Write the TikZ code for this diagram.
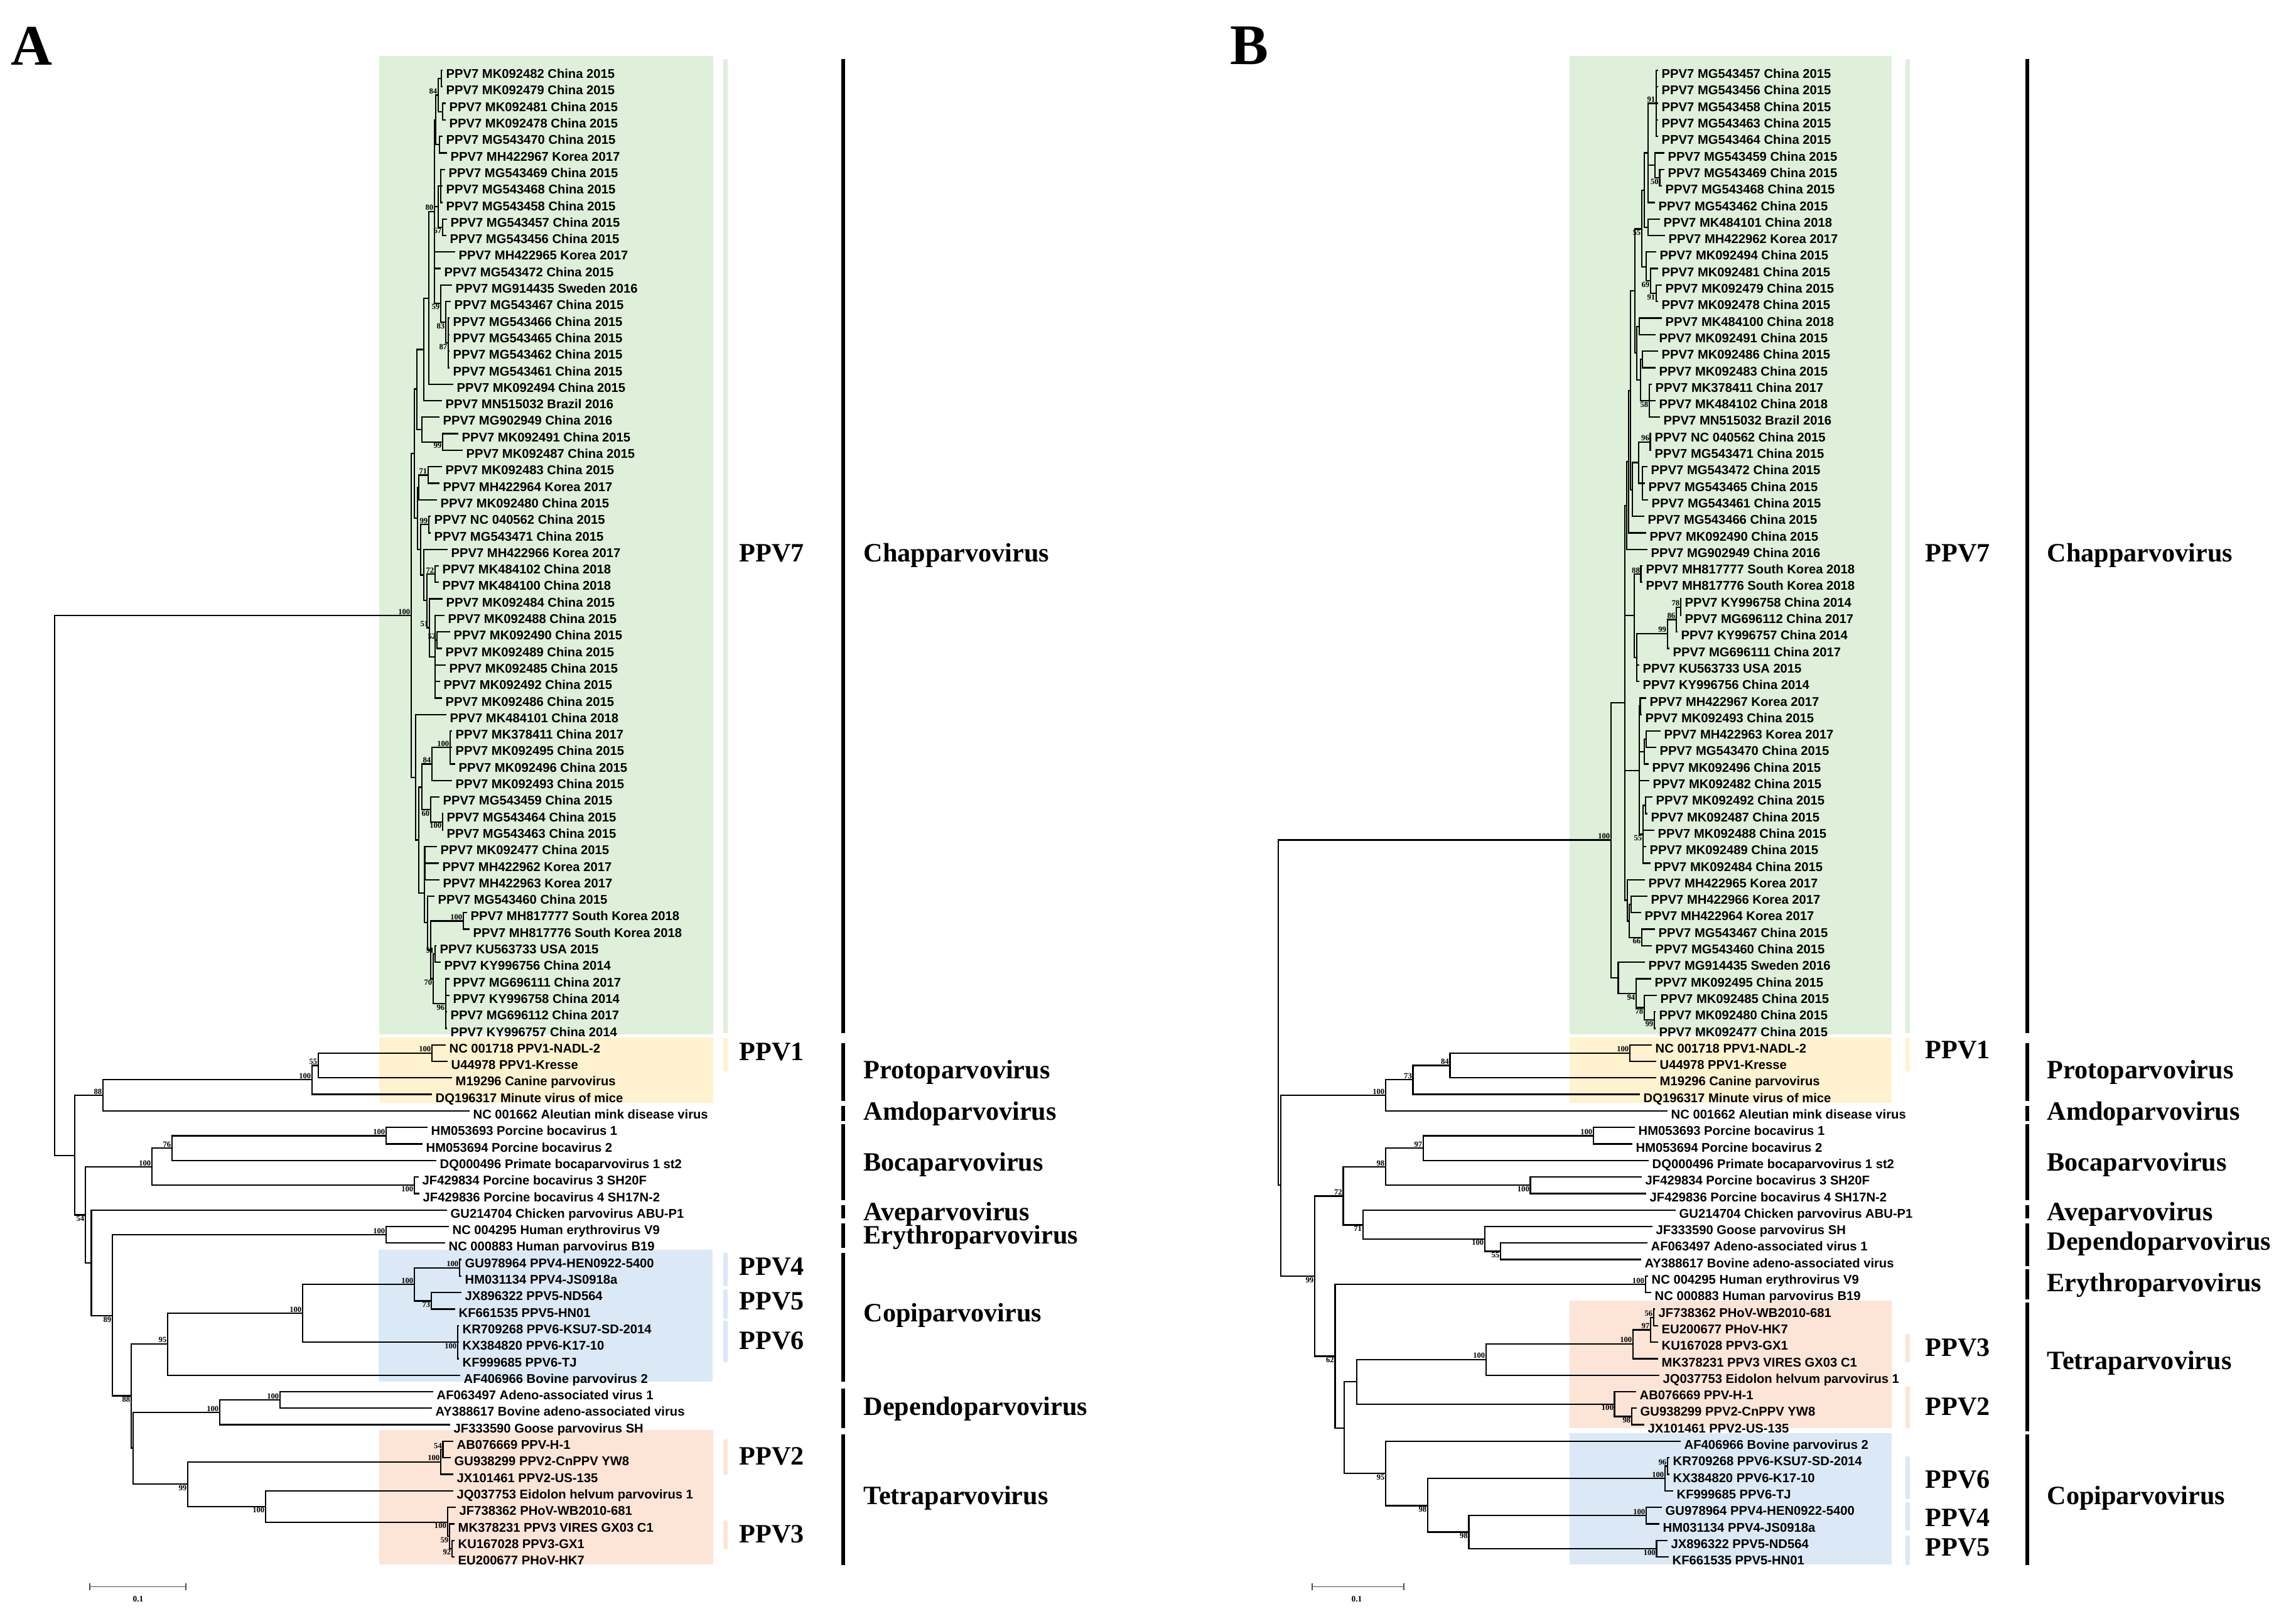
\documentclass[tikz,border=0pt]{standalone}
\usepackage{fontspec}
\setmainfont{Liberation Serif}
\setsansfont{Liberation Sans}
\definecolor{boxgreen}{RGB}{222,240,217}
\definecolor{boxyellow}{RGB}{255,242,206}
\definecolor{boxblue}{RGB}{219,233,246}
\definecolor{boxpeach}{RGB}{252,229,215}
% one parent, its children: elbow branches
\newcommand\twig[2]{\foreach \kid in {#2}{\draw[br] (#1) |- (\kid);}}
\begin{document}
\begin{tikzpicture}[x=0.1mm,y=-2.63mm,
  br/.style={line width=0.65pt},
  leaf/.style={anchor=west,inner xsep=0.5mm,inner ysep=0pt,text height=0.72em,text depth=0pt,font=\fontsize{5.75}{6}\selectfont\sffamily\bfseries},
  bs/.style={inner sep=0.3pt,font=\fontsize{3.6}{4}\selectfont\bfseries},
  bu/.style={label={[bs]above left:#1}},
  bd/.style={label={[bs]below left:#1}},
  clade/.style={anchor=west,inner sep=0pt,text height=0.66em,text depth=0pt,font=\fontsize{12}{14}\selectfont\bfseries},
  cbar/.style={line width=0.7mm},
  gbar/.style={line width=0.55mm},
  sbar/.style={line width=0.45pt,black!70},
  sblab/.style={font=\fontsize{3.8}{4}\selectfont\bfseries,inner sep=0pt}]
\fill[white] (0,-3.2586) rectangle (3657,94.156);
\useasboundingbox (0,-3.2586) rectangle (3657,94.156);

% coloured clade boxes
\fill[boxgreen] (604,0.12) rectangle (1136,59.35);
\fill[boxyellow] (604,59.55) rectangle (1136,63.5);
\fill[boxblue] (603,72.4) rectangle (1135,80.4);
\fill[boxpeach] (604,83.3) rectangle (1136,91.45);
\fill[boxgreen] (2500,0.12) rectangle (3013,59.35);
\fill[boxyellow] (2500,59.55) rectangle (3013,63.5);
\fill[boxpeach] (2500,75.5) rectangle (3013,83.2);
\fill[boxblue] (2500,83.5) rectangle (3013,91.45);

\node[font=\fontsize{26}{30}\selectfont\bfseries] (panelA) at (50,-0.48) {A};
\node[font=\fontsize{26}{30}\selectfont\bfseries] (panelB) at (1990,-0.48) {B};

%%%%%%%%%% tree A
\foreach \row/\xx/\txt in {1/705/PPV7 MK092482 China 2015, 2/705/PPV7 MK092479 China 2015,
  3/710/PPV7 MK092481 China 2015, 4/710/PPV7 MK092478 China 2015, 5/705/PPV7 MG543470 China 2015,
  6/712/PPV7 MH422967 Korea 2017, 7/709/PPV7 MG543469 China 2015, 8/705/PPV7 MG543468 China 2015,
  9/705/PPV7 MG543458 China 2015, 10/712/PPV7 MG543457 China 2015, 11/711/PPV7 MG543456 China 2015,
  12/725/PPV7 MH422965 Korea 2017, 13/702/PPV7 MG543472 China 2015, 14/720/PPV7 MG914435 Sweden 2016,
  15/718/PPV7 MG543467 China 2015, 16/716/PPV7 MG543466 China 2015, 17/716/PPV7 MG543465 China 2015,
  18/716/PPV7 MG543462 China 2015, 19/716/PPV7 MG543461 China 2015, 20/722/PPV7 MK092494 China 2015,
  21/704/PPV7 MN515032 Brazil 2016, 22/700/PPV7 MG902949 China 2016, 23/730/PPV7 MK092491 China 2015,
  24/737/PPV7 MK092487 China 2015, 25/704/PPV7 MK092483 China 2015, 26/700/PPV7 MH422964 Korea 2017,
  27/696/PPV7 MK092480 China 2015, 28/686/PPV7 NC 040562 China 2015, 29/686/PPV7 MG543471 China 2015,
  30/713/PPV7 MH422966 Korea 2017, 31/699/PPV7 MK484102 China 2018, 32/699/PPV7 MK484100 China 2018,
  33/705/PPV7 MK092484 China 2015, 34/708/PPV7 MK092488 China 2015, 35/717/PPV7 MK092490 China 2015,
  36/704/PPV7 MK092489 China 2015, 37/710/PPV7 MK092485 China 2015, 38/701/PPV7 MK092492 China 2015,
  39/704/PPV7 MK092486 China 2015, 40/711/PPV7 MK484101 China 2018, 41/720/PPV7 MK378411 China 2017,
  42/720/PPV7 MK092495 China 2015, 43/725/PPV7 MK092496 China 2015, 44/720/PPV7 MK092493 China 2015,
  45/700/PPV7 MG543459 China 2015, 46/706/PPV7 MG543464 China 2015, 47/706/PPV7 MG543463 China 2015,
  48/696/PPV7 MK092477 China 2015, 49/699/PPV7 MH422962 Korea 2017, 50/700/PPV7 MH422963 Korea 2017,
  51/692/PPV7 MG543460 China 2015, 52/744/PPV7 MH817777 South Korea 2018, 53/748/PPV7 MH817776 South Korea 2018,
  54/695/PPV7 KU563733 USA 2015, 55/702/PPV7 KY996756 China 2014, 56/716/PPV7 MG696111 China 2017,
  57/716/PPV7 KY996758 China 2014, 58/712/PPV7 MG696112 China 2017, 59/712/PPV7 KY996757 China 2014,
  60/710/NC 001718 PPV1-NADL-2, 61/713/U44978 PPV1-Kresse, 62/720/M19296 Canine parvovirus,
  63/688/DQ196317 Minute virus of mice, 64/748/NC 001662 Aleutian mink disease virus,
  65/681/HM053693 Porcine bocavirus 1, 66/673/HM053694 Porcine bocavirus 2,
  67/695/DQ000496 Primate bocaparvovirus 1 st2, 68/667/JF429834 Porcine bocavirus 3 SH20F,
  69/668/JF429836 Porcine bocavirus 4 SH17N-2, 70/712/GU214704 Chicken parvovirus ABU-P1,
  71/715/NC 004295 Human erythrovirus V9, 72/709/NC 000883 Human parvovirus B19,
  73/735/GU978964 PPV4-HEN0922-5400, 74/735/HM031134 PPV4-JS0918a, 75/735/JX896322 PPV5-ND564,
  76/725/KF661535 PPV5-HN01, 77/731/KR709268 PPV6-KSU7-SD-2014, 78/731/KX384820 PPV6-K17-10,
  79/731/KF999685 PPV6-TJ, 80/733/AF406966 Bovine parvovirus 2, 81/690/AF063497 Adeno-associated virus 1,
  82/688/AY388617 Bovine adeno-associated virus, 83/717/JF333590 Goose parvovirus SH,
  84/722/AB076669 PPV-H-1, 85/718/GU938299 PPV2-CnPPV YW8, 86/722/JX101461 PPV2-US-135,
  87/722/JQ037753 Eidolon helvum parvovirus 1, 88/726/JF738362 PHoV-WB2010-681,
  89/724/MK378231 PPV3 VIRES GX03 C1, 90/724/KU167028 PPV3-GX1, 91/724/EU200677 PHoV-HK7}
  \node[leaf] (a\row) at (\xx,\row) {\txt};

\coordinate (n12) at (703,1.5);
\coordinate (n34) at (705,3.5);
\coordinate[bu=84] (n1t4) at (698,2.5);
\coordinate (n56) at (700,5.5);
\coordinate (n1t6) at (694,4);
\coordinate (n7t9) at (702,8);
\coordinate[bd=67] (n1011) at (705,10.5);
\coordinate (n7t11) at (698,9.25);
\coordinate[bd=87] (n16t19) at (714,17.5);
\coordinate[bd=83] (n15t19) at (710,16.25);
\coordinate[bd=59] (n14t19) at (702,15.1);
\coordinate[bu=80] (nP) at (692,9.55);
\coordinate (n80) at (683,14.8);
\coordinate (nQ) at (675,17.9);
\coordinate[bd=99] (n2324) at (705,23.5);
\coordinate (nR) at (672,22.75);
\coordinate (nS) at (664,20.3);
\coordinate[bu=71] (n2526) at (682,25.5);
\coordinate (n25t27) at (667,26.25);
\coordinate[bu=99] (n2829) at (683,28.5);
\coordinate[bu=72] (n3132) at (693,31.5);
\coordinate[bu=52] (n3536) at (696,35.5);
\coordinate (n34t39) at (693,36.5);
\coordinate[bu=51] (n33t39) at (684,34.75);
\coordinate (n31t39) at (680,33.1);
\coordinate (n30t39) at (675,31.55);
\coordinate (n28t39) at (670,30);
\coordinate (nT) at (665,28.1);
\coordinate (nU) at (660,24.2);
\coordinate[bu=100] (n41t43) at (717,42);
\coordinate[bu=84] (n41t44) at (688,43);
\coordinate[bd=100] (n4647) at (705,46.5);
\coordinate[bd=60] (n45t47) at (686,45.75);
\coordinate (n41t47) at (672,44.4);
\coordinate (n48t50) at (676.5,49);
\coordinate[bu=100] (n5253) at (738,52.5);
\coordinate[bu=51] (n5455) at (693,54.5);
\coordinate[bd=96] (n56t59) at (710,57.5);
\coordinate[bd=70] (n54t59) at (690,56);
\coordinate (n52t59) at (686,54.25);
\coordinate (n51t59) at (681,52.6);
\coordinate (n48t59) at (676,50.8);
\coordinate (nL2) at (667,47.6);
\coordinate (nL) at (662,43.8);
\coordinate[bu=100] (nC7) at (655,34);
\coordinate[bu=100] (n6061) at (688,60.5);
\coordinate[bu=55] (n55) at (507,61.25);
\coordinate[bu=100] (n100a) at (497,62.1);
\coordinate[bu=88] (n88) at (164,63.05);
\coordinate[bu=100] (n6566) at (615,65.5);
\coordinate[bu=76] (n76) at (274,66.25);
\coordinate[bd=100] (n6869) at (660,68.5);
\coordinate[bu=100] (nBoc) at (242,67.4);
\coordinate[bu=100] (n7172) at (615,71.5);
\coordinate[bu=100] (n7374) at (732,73.5);
\coordinate[bd=73] (n7576) at (687,75.5);
\coordinate[bu=100] (n100e) at (660,74.5);
\coordinate[bd=100] (n7779) at (729,78);
\coordinate[bu=100] (n100d) at (482,76.25);
\coordinate[bu=95] (n95) at (267,78.1);
\coordinate[bu=100] (n8182) at (446,81.5);
\coordinate[bu=100] (nDep) at (350,82.25);
\coordinate[bu=54] (n8485) at (705.6,84.5);
\coordinate[bu=100] (n84t86) at (702,85.25);
\coordinate[bd=92] (n9091) at (720,90.5);
\coordinate[bd=59] (n89t91) at (716,89.75);
\coordinate[bd=100] (n88t91) at (712.7,88.9);
\coordinate[bd=100] (n100g) at (423,87.95);
\coordinate[bd=99] (n99) at (299,86.6);
\coordinate (nV2) at (212,84.4);
\coordinate[bd=88] (nV) at (209,81.25);
\coordinate[bd=89] (nW) at (179,76.4);
\coordinate (nZ) at (145.5,73.2);
\coordinate[bd=54] (nY) at (136,70.3);
\coordinate (nX) at (119,66.7);
\coordinate (nRoot) at (87,50.35);

\twig{n12}{a1,a2}
\twig{n34}{a3,a4}
\twig{n1t4}{n12,n34}
\twig{n56}{a5,a6}
\twig{n1t6}{n1t4,n56}
\twig{n7t9}{a7,a8,a9}
\twig{n1011}{a10,a11}
\twig{n7t11}{n7t9,n1011}
\twig{n16t19}{a16,a17,a18,a19}
\twig{n15t19}{a15,n16t19}
\twig{n14t19}{a14,n15t19}
\twig{nP}{n1t6,n7t11,a12,a13,n14t19}
\twig{n80}{nP,a20}
\twig{nQ}{n80,a21}
\twig{n2324}{a23,a24}
\twig{nR}{a22,n2324}
\twig{nS}{nQ,nR}
\twig{n2526}{a25,a26}
\twig{n25t27}{n2526,a27}
\twig{n2829}{a28,a29}
\twig{n3132}{a31,a32}
\twig{n3536}{a35,a36}
\twig{n34t39}{a34,n3536,a37,a38,a39}
\twig{n33t39}{a33,n34t39}
\twig{n31t39}{n3132,n33t39}
\twig{n30t39}{a30,n31t39}
\twig{n28t39}{n2829,n30t39}
\twig{nT}{n25t27,n28t39}
\twig{nU}{nS,nT}
\twig{n41t43}{a41,a42,a43}
\twig{n41t44}{n41t43,a44}
\twig{n4647}{a46,a47}
\twig{n45t47}{a45,n4647}
\twig{n41t47}{n41t44,n45t47}
\twig{n48t50}{a48,a49,a50}
\twig{n5253}{a52,a53}
\twig{n5455}{a54,a55}
\twig{n56t59}{a56,a57,a58,a59}
\twig{n54t59}{n5455,n56t59}
\twig{n52t59}{n5253,n54t59}
\twig{n51t59}{a51,n52t59}
\twig{n48t59}{n48t50,n51t59}
\twig{nL2}{n41t47,n48t59}
\twig{nL}{a40,nL2}
\twig{nC7}{nU,nL}
\twig{n6061}{a60,a61}
\twig{n55}{n6061,a62}
\twig{n100a}{n55,a63}
\twig{n88}{n100a,a64}
\twig{n6566}{a65,a66}
\twig{n76}{n6566,a67}
\twig{n6869}{a68,a69}
\twig{nBoc}{n76,n6869}
\twig{n7172}{a71,a72}
\twig{n7374}{a73,a74}
\twig{n7576}{a75,a76}
\twig{n100e}{n7374,n7576}
\twig{n7779}{a77,a78,a79}
\twig{n100d}{n100e,n7779}
\twig{n95}{n100d,a80}
\twig{n8182}{a81,a82}
\twig{nDep}{n8182,a83}
\twig{n8485}{a84,a85}
\twig{n84t86}{n8485,a86}
\twig{n9091}{a90,a91}
\twig{n89t91}{a89,n9091}
\twig{n88t91}{a88,n89t91}
\twig{n100g}{a87,n88t91}
\twig{n99}{n84t86,n100g}
\twig{nV2}{nDep,n99}
\twig{nV}{n95,nV2}
\twig{nW}{n7172,nV}
\twig{nZ}{a70,nW}
\twig{nY}{nBoc,nZ}
\twig{nX}{n88,nY}
\twig{nRoot}{nC7,nX}

%%%%%%%%%% tree B
\foreach \row/\xx/\txt in {1/2641/PPV7 MG543457 China 2015, 2/2641/PPV7 MG543456 China 2015,
  3/2641/PPV7 MG543458 China 2015, 4/2641/PPV7 MG543463 China 2015, 5/2641/PPV7 MG543464 China 2015,
  6/2651/PPV7 MG543459 China 2015, 7/2651/PPV7 MG543469 China 2015, 8/2647/PPV7 MG543468 China 2015,
  9/2636/PPV7 MG543462 China 2015, 10/2644/PPV7 MK484101 China 2018, 11/2652/PPV7 MH422962 Korea 2017,
  12/2638/PPV7 MK092494 China 2015, 13/2641/PPV7 MK092481 China 2015, 14/2647/PPV7 MK092479 China 2015,
  15/2641/PPV7 MK092478 China 2015, 16/2647/PPV7 MK484100 China 2018, 17/2637/PPV7 MK092491 China 2015,
  18/2641/PPV7 MK092486 China 2015, 19/2637/PPV7 MK092483 China 2015, 20/2631/PPV7 MK378411 China 2017,
  21/2637/PPV7 MK484102 China 2018, 22/2644/PPV7 MN515032 Brazil 2016, 23/2630/PPV7 NC 040562 China 2015,
  24/2630/PPV7 MG543471 China 2015, 25/2624/PPV7 MG543472 China 2015, 26/2620/PPV7 MG543465 China 2015,
  27/2625/PPV7 MG543461 China 2015, 28/2619/PPV7 MG543466 China 2015, 29/2622/PPV7 MK092490 China 2015,
  30/2624/PPV7 MG902949 China 2016, 31/2616/PPV7 MH817777 South Korea 2018, 32/2616/PPV7 MH817776 South Korea 2018,
  33/2678/PPV7 KY996758 China 2014, 34/2678/PPV7 MG696112 China 2017, 35/2672/PPV7 KY996757 China 2014,
  36/2659/PPV7 MG696111 China 2017, 37/2611/PPV7 KU563733 USA 2015, 38/2611/PPV7 KY996756 China 2014,
  39/2622/PPV7 MH422967 Korea 2017, 40/2615/PPV7 MK092493 China 2015, 41/2645/PPV7 MH422963 Korea 2017,
  42/2638/PPV7 MG543470 China 2015, 43/2626/PPV7 MK092496 China 2015, 44/2627/PPV7 MK092482 China 2015,
  45/2632/PPV7 MK092492 China 2015, 46/2624/PPV7 MK092487 China 2015, 47/2635/PPV7 MK092488 China 2015,
  48/2622/PPV7 MK092489 China 2015, 49/2629/PPV7 MK092484 China 2015, 50/2620/PPV7 MH422965 Korea 2017,
  51/2624/PPV7 MH422966 Korea 2017, 52/2614/PPV7 MH422964 Korea 2017, 53/2636/PPV7 MG543467 China 2015,
  54/2631/PPV7 MG543460 China 2015, 55/2620/PPV7 MG914435 Sweden 2016, 56/2630/PPV7 MK092495 China 2015,
  57/2639/PPV7 MK092485 China 2015, 58/2637/PPV7 MK092480 China 2015, 59/2637/PPV7 MK092477 China 2015,
  60/2631/NC 001718 PPV1-NADL-2, 61/2638/U44978 PPV1-Kresse, 62/2638/M19296 Canine parvovirus,
  63/2612/DQ196317 Minute virus of mice, 64/2656/NC 001662 Aleutian mink disease virus,
  65/2604/HM053693 Porcine bocavirus 1, 66/2600/HM053694 Porcine bocavirus 2,
  67/2626/DQ000496 Primate bocaparvovirus 1 st2, 68/2615/JF429834 Porcine bocavirus 3 SH20F,
  69/2622/JF429836 Porcine bocavirus 4 SH17N-2, 70/2669/GU214704 Chicken parvovirus ABU-P1,
  71/2632/JF333590 Goose parvovirus SH, 72/2624/AF063497 Adeno-associated virus 1,
  73/2614/AY388617 Bovine adeno-associated virus, 74/2625/NC 004295 Human erythrovirus V9,
  75/2630/NC 000883 Human parvovirus B19, 76/2636/JF738362 PHoV-WB2010-681, 77/2641/EU200677 PHoV-HK7,
  78/2641/KU167028 PPV3-GX1, 79/2641/MK378231 PPV3 VIRES GX03 C1, 80/2643/JQ037753 Eidolon helvum parvovirus 1,
  81/2606/AB076669 PPV-H-1, 82/2607/GU938299 PPV2-CnPPV YW8, 83/2619/JX101461 PPV2-US-135,
  84/2677/AF406966 Bovine parvovirus 2, 85/2659/KR709268 PPV6-KSU7-SD-2014, 86/2659/KX384820 PPV6-K17-10,
  87/2665/KF999685 PPV6-TJ, 88/2647/GU978964 PPV4-HEN0922-5400, 89/2643/HM031134 PPV4-JS0918a,
  90/2656/JX896322 PPV5-ND564, 91/2658/KF661535 PPV5-HN01}
  \node[leaf] (b\row) at (\xx,\row) {\txt};

\coordinate[bu=91] (q15) at (2638,3);
\coordinate[bd=50] (q78) at (2643.5,7.5);
\coordinate (q68) at (2636,6.75);
\coordinate (q19) at (2625,6);
\coordinate (q1011) at (2625,10.5);
\coordinate (q111) at (2619,8.25);
\coordinate[bd=91] (q1415) at (2638,14.5);
\coordinate[bd=69] (q1315) at (2629,13.75);
\coordinate (q1215) at (2622,12.9);
\coordinate[bd=55] (q115) at (2615,10.6);
\coordinate (q1617) at (2611,16.5);
\coordinate (q1819) at (2616,18.5);
\coordinate[bd=58] (q2022) at (2627,21);
\coordinate (q1822) at (2613,19.75);
\coordinate (q1622) at (2607,18.1);
\coordinate (q122) at (2604,14.35);
\coordinate[bu=96] (q2324) at (2628.6,23.5);
\coordinate (q2527) at (2616,26);
\coordinate (q2327) at (2610,24.75);
\coordinate (q2328) at (2600,26.4);
\coordinate (qP1) at (2597,20.4);
\coordinate (qP2) at (2594,24.7);
\coordinate (qP3) at (2591,27.35);
\coordinate[bu=88] (q3132) at (2613.6,31.5);
\coordinate[bu=78] (q3334) at (2677,33.5);
\coordinate[bu=86] (q3335) at (2670,34.25);
\coordinate[bu=99] (q3336) at (2655.7,35.1);
\coordinate (qM1) at (2607,36.55);
\coordinate (qG) at (2603,34);
\coordinate (q3940) at (2612.6,39.5);
\coordinate (q4142) at (2622,41.5);
\coordinate (q4143) at (2619,42.25);
\coordinate (q4546) at (2621,45.5);
\coordinate[bd=55] (q4549) at (2617,47.25);
\coordinate (q3949) at (2611,43.4);
\coordinate (q5152) at (2598,51.5);
\coordinate[bd=66] (q5354) at (2615,53.5);
\coordinate (q5154) at (2595,52.5);
\coordinate (q5054) at (2592,51.25);
\coordinate (qUB) at (2588,39.3);
\coordinate[bd=99] (q5859) at (2635,58.5);
\coordinate[bd=78] (q5759) at (2619,57.75);
\coordinate[bd=94] (q5659) at (2606,56.9);
\coordinate (q5559) at (2577.5,55.95);
\coordinate[bu=100] (qC7) at (2566,47.6);
\coordinate[bu=100] (q6061) at (2596,60.5);
\coordinate[bu=84] (q84) at (2309.5,61.25);
\coordinate[bu=73] (q73) at (2250.6,62.1);
\coordinate[bu=100] (q100B) at (2207,63.05);
\coordinate[bu=100] (q6566) at (2538,65.5);
\coordinate[bu=97] (q97) at (2267,66.25);
\coordinate[bd=100] (q6869) at (2437.6,68.5);
\coordinate[bu=98] (q98) at (2207,67.4);
\coordinate[bd=55] (q7273) at (2390,72.5);
\coordinate[bd=100] (q100h) at (2365,71.75);
\coordinate[bd=71] (q71) at (2170.7,70.9);
\coordinate[bu=72] (q72) at (2139.5,69.15);
\coordinate[bu=100] (q7475) at (2620.7,74.5);
\coordinate[bu=56] (q7677) at (2634,76.5);
\coordinate[bu=97] (q7678) at (2629,77.25);
\coordinate[bu=100] (q7679) at (2601,78.1);
\coordinate[bu=100] (q100i) at (2367,79.05);
\coordinate[bd=98] (q8283) at (2599,82.5);
\coordinate[bd=100] (q100j) at (2571.6,81.75);
\coordinate (qK) at (2161,80.4);
\coordinate[bu=96] (q8586) at (2656,85.5);
\coordinate[bu=100] (q8587) at (2652,86.25);
\coordinate[bu=100] (q8889) at (2622,88.5);
\coordinate[bd=100] (q9091) at (2638.5,90.5);
\coordinate[bd=98] (q98d) at (2339.4,89.5);
\coordinate[bd=98] (q98c) at (2274,87.9);
\coordinate[bd=95] (q95) at (2207,85.95);
\coordinate (qM) at (2140.8,83.2);
\coordinate[bd=62] (q62) at (2126.5,78.85);
\coordinate[bd=99] (q99) at (2094,74);
\coordinate (qX) at (2040,68.5);
\coordinate (qRoot) at (2036,58.05);

\twig{q15}{b1,b2,b3,b4,b5}
\twig{q78}{b7,b8}
\twig{q68}{b6,q78}
\twig{q19}{q15,q68,b9}
\twig{q1011}{b10,b11}
\twig{q111}{q19,q1011}
\twig{q1415}{b14,b15}
\twig{q1315}{b13,q1415}
\twig{q1215}{b12,q1315}
\twig{q115}{q111,q1215}
\twig{q1617}{b16,b17}
\twig{q1819}{b18,b19}
\twig{q2022}{b20,b21,b22}
\twig{q1822}{q1819,q2022}
\twig{q1622}{q1617,q1822}
\twig{q122}{q115,q1622}
\twig{q2324}{b23,b24}
\twig{q2527}{b25,b26,b27}
\twig{q2327}{q2324,q2527}
\twig{q2328}{q2327,b28}
\twig{qP1}{q122,q2328}
\twig{qP2}{qP1,b29}
\twig{qP3}{qP2,b30}
\twig{q3132}{b31,b32}
\twig{q3334}{b33,b34}
\twig{q3335}{q3334,b35}
\twig{q3336}{q3335,b36}
\twig{qM1}{q3336,b37,b38}
\twig{qG}{q3132,qM1}
\twig{q3940}{b39,b40}
\twig{q4142}{b41,b42}
\twig{q4143}{q4142,b43}
\twig{q4546}{b45,b46}
\twig{q4549}{q4546,b47,b48,b49}
\twig{q3949}{q3940,q4143,b44,q4549}
\twig{q5152}{b51,b52}
\twig{q5354}{b53,b54}
\twig{q5154}{q5152,q5354}
\twig{q5054}{b50,q5154}
\twig{qUB}{qP3,qG,q3949,q5054}
\twig{q5859}{b58,b59}
\twig{q5759}{b57,q5859}
\twig{q5659}{b56,q5759}
\twig{q5559}{b55,q5659}
\twig{qC7}{qUB,q5559}
\twig{q6061}{b60,b61}
\twig{q84}{q6061,b62}
\twig{q73}{q84,b63}
\twig{q100B}{q73,b64}
\twig{q6566}{b65,b66}
\twig{q97}{q6566,b67}
\twig{q6869}{b68,b69}
\twig{q98}{q97,q6869}
\twig{q7273}{b72,b73}
\twig{q100h}{b71,q7273}
\twig{q71}{b70,q100h}
\twig{q72}{q98,q71}
\twig{q7475}{b74,b75}
\twig{q7677}{b76,b77}
\twig{q7678}{q7677,b78}
\twig{q7679}{q7678,b79}
\twig{q100i}{q7679,b80}
\twig{q8283}{b82,b83}
\twig{q100j}{b81,q8283}
\twig{qK}{q100i,q100j}
\twig{q8586}{b85,b86}
\twig{q8587}{q8586,b87}
\twig{q8889}{b88,b89}
\twig{q9091}{b90,b91}
\twig{q98d}{q8889,q9091}
\twig{q98c}{q8587,q98d}
\twig{q95}{b84,q98c}
\twig{qM}{qK,q95}
\twig{q62}{q7475,qM}
\twig{q99}{q72,q62}
\twig{qX}{q100B,q99}
\twig{qRoot}{qC7,qX}

%%%%%%%%%% clade and genus marks
\foreach \col/\from/\to in {boxgreen/0.3/59.3, boxyellow/59.6/61.6, boxblue/72.6/74.6, boxblue/74.8/76.6,
  boxblue/76.7/79.2, boxpeach/83.9/86, boxpeach/88.8/90.5}
  \draw[cbar,\col] (1155,\from) -- (1155,\to);
\foreach \col/\from/\to in {boxgreen/0.3/59.3, boxyellow/59.6/61.6, boxpeach/77.5/79.2, boxpeach/80.7/83.2,
  boxblue/84.9/87.5, boxblue/87.7/89.4, boxblue/89.7/91.5}
  \draw[cbar,\col] (3038,\from) -- (3038,\to);
\foreach \from/\to in {0.3/59.3, 59.9/63.4, 63.7/64.6, 64.8/69.4, 69.7/70.5, 70.8/72.3, 72.6/80.4, 80.8/83.2, 83.6/91.5}
  \draw[gbar] (1343,\from) -- (1343,\to);
\foreach \from/\to in {0.3/59.3, 59.9/63.4, 63.7/64.6, 64.8/69.4, 69.7/70.5, 70.8/73.4, 73.6/75.4, 75.6/83.4, 83.6/91.5}
  \draw[gbar] (3229,\from) -- (3229,\to);

\foreach \row/\txt [count=\i] in {30.3/PPV7, 60.5/PPV1, 73.5/PPV4, 75.6/PPV5, 78/PPV6, 85/PPV2, 89.7/PPV3}
  \node[clade] (ca\i) at (1177,\row) {\txt};
\foreach \row/\txt [count=\i] in {30.3/Chapparvovirus, 61.6/Protoparvovirus, 64.1/Amdoparvovirus,
  67.2/Bocaparvovirus, 70.2/Aveparvovirus, 71.6/Erythroparvovirus, 76.3/Copiparvovirus,
  82/Dependoparvovirus, 87.4/Tetraparvovirus}
  \node[clade] (ga\i) at (1375,\row) {\txt};
\foreach \row/\txt [count=\i] in {30.3/PPV7, 60.4/PPV1, 78.4/PPV3, 82/PPV2, 86.4/PPV6, 88.7/PPV4, 90.5/PPV5}
  \node[clade] (cb\i) at (3066,\row) {\txt};
\foreach \row/\txt [count=\i] in {30.3/Chapparvovirus, 61.6/Protoparvovirus, 64.1/Amdoparvovirus,
  67.2/Bocaparvovirus, 70.2/Aveparvovirus, 72/Dependoparvovirus, 74.5/Erythroparvovirus,
  79.2/Tetraparvovirus, 87.4/Copiparvovirus}
  \node[clade] (gb\i) at (3260,\row) {\txt};

% scale bars
\draw[sbar] (143,92.6) -- (143,93.0) (143,92.8) -- (296,92.8) (296,92.6) -- (296,93.0);
\node[sblab] (scA) at (220,93.55) {0.1};
\draw[sbar] (2090,92.6) -- (2090,93.0) (2090,92.8) -- (2236,92.8) (2236,92.6) -- (2236,93.0);
\node[sblab] (scB) at (2161,93.55) {0.1};
\end{tikzpicture}
\end{document}
